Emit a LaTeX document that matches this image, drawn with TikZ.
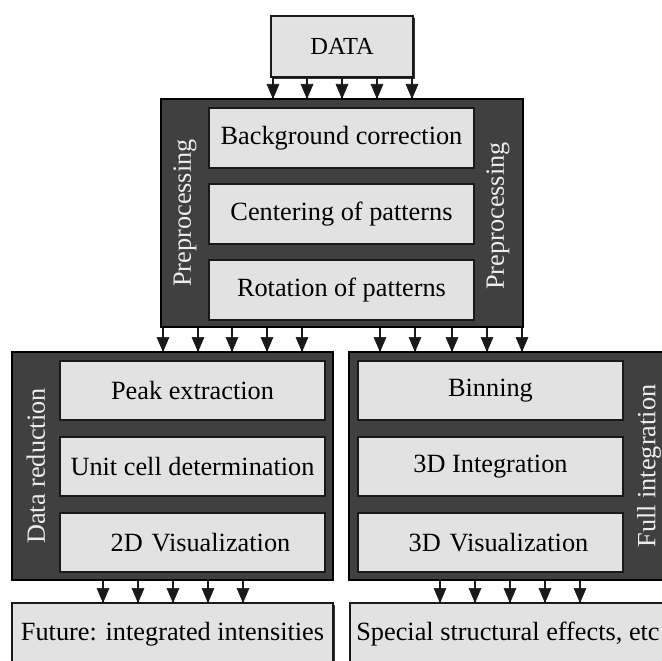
\documentclass[tikz,border=0pt]{standalone}
\usepackage{fontspec}
\setmainfont{Liberation Serif}
\usetikzlibrary{shadows}
\definecolor{darkfill}{gray}{0.25}
\definecolor{lightfill}{gray}{0.885}
\definecolor{lbltext}{gray}{0.93}
\definecolor{ink}{gray}{0.1}
\begin{document}
\begin{tikzpicture}[x=1pt,y=-1pt,
  txt/.style={font=\fontsize{26.3}{30}\selectfont},
  lbox/.style={draw=ink, line width=1.4pt, fill=lightfill, inner sep=0pt, txt},
  outbox/.style={lbox, drop shadow={shadow xshift=2pt, shadow yshift=-2pt, opacity=1, fill=black!80}},
  dbox/.style={draw=black, line width=1.4pt, fill=darkfill, inner sep=0pt},
  side/.style={rotate=90, text=lbltext, inner sep=0pt, txt},
  shaft/.style={line width=1.6pt, draw=ink},
  head/.style={fill=ink, draw=ink, line width=0.6pt, line join=miter}
]
\useasboundingbox (0,0) rectangle (662,661);
\clip (0,0) rectangle (662,661);
\fill[white] (0,0) rectangle (662,661);

% DATA
\node[outbox, minimum width=142pt, minimum height=61pt, font=\fontsize{24.5}{28}\selectfont] (data) at (342,46.5) {DATA};

% Preprocessing
\node[dbox, minimum width=362pt, minimum height=228pt] (pre) at (342,213) {};
\node[lbox, minimum width=265pt, minimum height=60pt] (bg) at (341.5,138) {Background correction};
\node[lbox, minimum width=265pt, minimum height=60pt] (cen) at (341.5,214) {Centering of patterns};
\node[lbox, minimum width=265pt, minimum height=60pt] (rot) at (341.5,290) {Rotation of patterns};
\node[side] (preL) at (185,213) {Preprocessing};
\node[side] (preR) at (498,216) {Preprocessing};

% Data reduction
\node[dbox, minimum width=321pt, minimum height=228pt] (red) at (172.5,466) {};
\node[lbox, minimum width=265pt, minimum height=59pt] (peak) at (192.5,390.5) {Peak extraction};
\node[lbox, minimum width=265pt, minimum height=59pt] (unit) at (192.5,466.5) {Unit cell determination};
\node[lbox, minimum width=265pt, minimum height=59pt, text width=265pt, align=center] (vis2) at (192.5,542.5) {\hspace*{16pt}2D Visualization};
\node[side] (redL) at (36,466) {Data reduction};

% Full integration
\node[dbox, minimum width=323pt, minimum height=228pt] (full) at (510.5,466) {};
\node[lbox, minimum width=265pt, minimum height=59pt] (bin) at (490.5,390.5) {Binning};
\node[lbox, minimum width=265pt, minimum height=59pt] (int3) at (490.5,466.5) {3D Integration};
\node[lbox, minimum width=265pt, minimum height=59pt, text width=265pt, align=center] (vis3) at (490.5,542.5) {\hspace*{16pt}3D Visualization};
\node[side] (fullL) at (649,466) {Full integration};

% Outputs
\node[outbox, minimum width=321pt, minimum height=62pt] (fut) at (172.5,634) {Future: integrated intensities};
\node[outbox, minimum width=316pt, minimum height=62pt] (spec) at (508,634) {Special structural effects, etc};

% Arrows (shaft + explicit head, tip on the target's top edge)
\foreach \x in {273,307,342,377,412} {
  \draw[shaft] (\x,0 |- data.south) -- (\x,0 |- pre.north);
  \path[head] (\x,0 |- pre.north) -- ++(-6,-14) -- ++(12,0) -- cycle;
}
\foreach \x in {163,198,232,267,302} {
  \draw[shaft] (\x,0 |- pre.south) -- (\x,0 |- red.north);
  \path[head] (\x,0 |- red.north) -- ++(-6,-14) -- ++(12,0) -- cycle;
}
\foreach \x in {380,415,452,487,522} {
  \draw[shaft] (\x,0 |- pre.south) -- (\x,0 |- full.north);
  \path[head] (\x,0 |- full.north) -- ++(-6,-14) -- ++(12,0) -- cycle;
}
\foreach \x in {103,138,173,208,243} {
  \draw[shaft] (\x,0 |- red.south) -- (\x,0 |- fut.north);
  \path[head] (\x,0 |- fut.north) -- ++(-6,-14) -- ++(12,0) -- cycle;
}
\foreach \x in {440,475,510,545,580} {
  \draw[shaft] (\x,0 |- full.south) -- (\x,0 |- spec.north);
  \path[head] (\x,0 |- spec.north) -- ++(-6,-14) -- ++(12,0) -- cycle;
}
\end{tikzpicture}
\end{document}
